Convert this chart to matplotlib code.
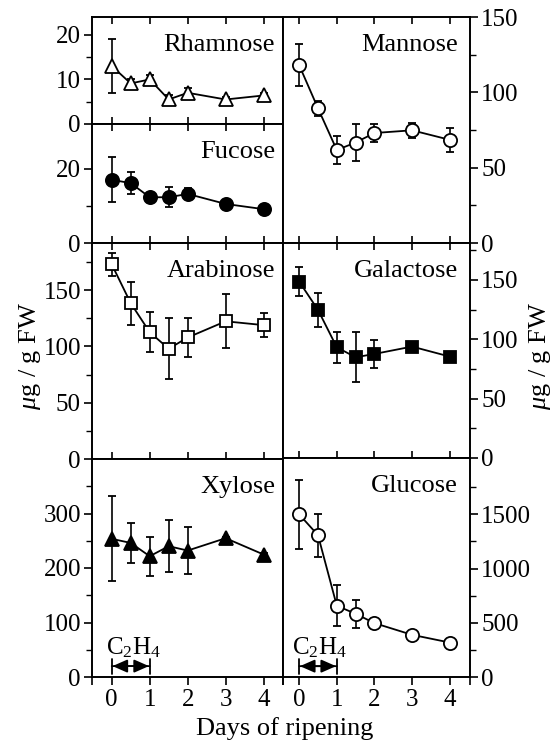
import matplotlib
matplotlib.use('Agg')
import matplotlib.pyplot as plt

plt.rcParams['font.family'] = ['Liberation Serif', 'DejaVu Serif']
plt.rcParams['mathtext.fontset'] = 'custom'
plt.rcParams['mathtext.rm'] = 'Liberation Serif'
plt.rcParams['mathtext.it'] = 'Liberation Serif:italic'
plt.rcParams['font.size'] = 18

days = [0, 0.5, 1, 1.5, 2, 3, 4]
day_ticks = [0, 1, 2, 3, 4]

rhamnose = [13.0, 9.1, 10.0, 5.5, 7.0, 5.5, 6.4]
rhamnose_err = [6.0, 1.0, 1.0, 1.0, 1.0, 0.5, 0.5]
fucose = [17.0, 16.1, 12.3, 12.3, 13.2, 10.5, 9.1]
fucose_err = [6.0, 3.0, 0.5, 2.7, 1.5, 0.5, 0.5]
arabinose = [173, 138.5, 112.7, 98, 108, 122.4, 119]
arabinose_err = [10, 19, 18, 27, 17, 24, 11]
xylose = [253.5, 246, 221.6, 240, 232, 254.7, 224.7]
xylose_err = [78, 37, 36, 48, 43, 3, 3]

mannose = [118, 89.4, 61.7, 66.7, 73, 74.8, 68.5]
mannose_err = [14, 5, 9, 12, 6, 5, 8]
galactose = [148.5, 124.7, 93.2, 84.8, 87.6, 93.8, 85.4]
galactose_err = [12, 14, 13, 21, 12, 2, 2]
glucose = [1500, 1308, 657, 583, 497, 389, 318]
glucose_err = [316, 200, 190, 130, 20, 20, 20]

W, H = 558, 746
fig = plt.figure(figsize=(W / 100, H / 100), dpi=100)


def panel(x0, x1, y0, y1, xlim, ylim, major, minor, right, bottom):
    ax = fig.add_axes([x0 / W, 1 - y1 / H, (x1 - x0) / W, (y1 - y0) / H])
    ax.set_xlim(*xlim)
    ax.set_ylim(*ylim)
    ax.set_yticks(major)
    ax.set_yticks(minor, minor=True)
    ax.set_xticks(day_ticks)
    ax.set_xticks(list(xlim), minor=True)
    if right:
        ax.yaxis.tick_right()
    ax.tick_params(axis='y', which='major', direction='out', length=6, width=1.2, pad=2)
    ax.tick_params(axis='y', which='minor', direction='out', length=4, width=1.0)
    if bottom:
        ax.tick_params(axis='x', which='both', direction='out', length=6, width=1.2,
                       top=False, pad=3)
    else:
        ax.tick_params(axis='x', which='major', direction='in', length=5, width=1.2,
                       top=True, bottom=True, labelbottom=False)
        ax.tick_params(axis='x', which='minor', length=0)
    for s in ax.spines.values():
        s.set_linewidth(1.4)
    return ax


def series(ax, y, err, marker, filled, name, tx):
    ax.errorbar(days, y, yerr=err, color='black', lw=1.3, elinewidth=1.2, capsize=3,
                capthick=1.2, marker=marker, ms=9.5 if marker != 's' else 9,
                mfc='black' if filled else 'white', mec='black', mew=1.3, zorder=3)
    ax.annotate(name, xy=(tx, 1), xycoords='axes fraction', xytext=(0, -20),
                textcoords='offset points', ha='right', va='center', fontsize=19)


def ethylene(ax, ytext, yarrow, xtext):
    ax.text(xtext, ytext, r'C$_2$H$_4$', ha='left', va='center', fontsize=18)
    ax.annotate('', xy=(0, yarrow), xytext=(1, yarrow),
                arrowprops=dict(arrowstyle='|-|,widthA=0.3,widthB=0.3', color='black', lw=1.3,
                                shrinkA=0, shrinkB=0))
    ax.annotate('', xy=(0.02, yarrow), xytext=(0.98, yarrow),
                arrowprops=dict(arrowstyle='<|-|>,head_length=0.5,head_width=0.22',
                                color='black', lw=1.3, shrinkA=0, shrinkB=0))


LX = (-0.52, 4.51)
RX = (-0.43, 4.54)

ax = panel(92, 283, 17, 124, LX, (0, 24), [0, 10, 20], [5, 15], False, False)
series(ax, rhamnose, rhamnose_err, '^', False, 'Rhamnose', 0.958)

ax = panel(92, 283, 124, 243, LX, (0, 32), [0, 20], [10], False, False)
series(ax, fucose, fucose_err, 'o', True, 'Fucose', 0.958)

ax = panel(92, 283, 243, 459, LX, (0, 192), [0, 50, 100, 150], [25, 75, 125, 175], False, False)
series(ax, arabinose, arabinose_err, 's', False, 'Arabinose', 0.958)

ax = panel(92, 283, 459, 677, LX, (0, 400), [0, 100, 200, 300], [50, 150, 250, 350], False, True)
series(ax, xylose, xylose_err, '^', True, 'Xylose', 0.958)
ethylene(ax, 53, 20, -0.16)

ax = panel(283, 470, 17, 243, RX, (0, 150), [0, 50, 100, 150], [25, 75, 125], True, False)
series(ax, mannose, mannose_err, 'o', False, 'Mannose', 0.936)

ax = panel(283, 470, 243, 458, RX, (0, 181), [0, 50, 100, 150], [25, 75, 125, 175], True, False)
series(ax, galactose, galactose_err, 's', True, 'Galactose', 0.936)

ax = panel(283, 470, 458, 677, RX, (0, 2020), [0, 500, 1000, 1500], [250, 750, 1250, 1750], True, True)
series(ax, glucose, glucose_err, 'o', False, 'Glucose', 0.936)
ethylene(ax, 268, 100, -0.2)

fig.text(30 / W, 1 - 356 / H, r'$\mu$g / g FW', rotation=90, ha='center', va='center', fontsize=19)
fig.text(540 / W, 1 - 356 / H, r'$\mu$g / g FW', rotation=90, ha='center', va='center', fontsize=19)
fig.text(285 / W, 1 - 729 / H, 'Days of ripening', ha='center', va='center', fontsize=19)

fig.savefig('out.png', dpi=100)
